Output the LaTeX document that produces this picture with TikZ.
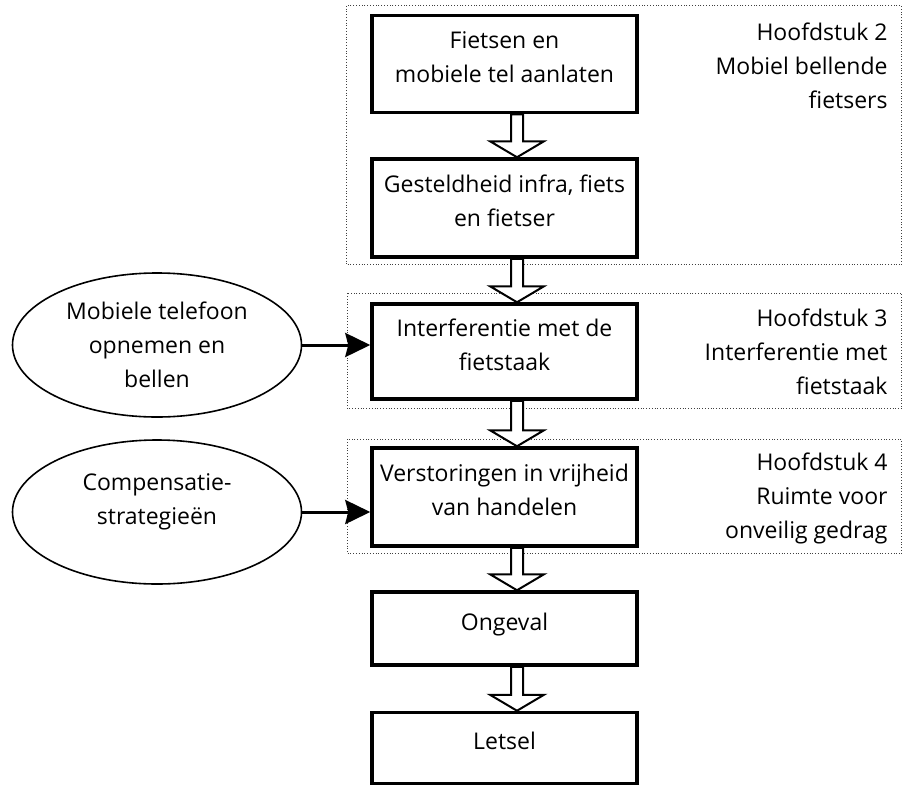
\documentclass[tikz,border=0pt]{standalone}
\usepackage{fontspec}
\setmainfont{Open Sans}
\usetikzlibrary{calc,shapes.geometric,arrows.meta}

\tikzset{
    every node/.style={font=\fontsize{23}{34}\selectfont},
    stap/.style={draw, line width=3.5pt, minimum width=265pt, align=center, inner sep=0pt, text depth=14pt},
    oorzaak/.style={draw, ellipse, line width=1.6pt, minimum width=289pt, minimum height=144pt, align=center, inner sep=0pt},
    hoofdstuk/.style={anchor=north east, align=right, inner sep=0pt},
    kader/.style={draw=black!75, dotted, line width=0.8pt},
    pijl/.style={line width=3pt, -{Stealth[length=25pt, width=24pt, inset=3pt]}},
    blok/.style={draw, fill=white, line width=2pt, line join=miter, to path={
        ($(\tikztostart.south) + (6.5, 0)$) -- ($(\tikztotarget.north) + (6.5, 16)$)
        -- ($(\tikztotarget.north) + (-14.5, 16)$) -- ($(\tikztotarget.north) + (12.5, 0)$)
        -- ($(\tikztotarget.north) + (39.5, 16)$) -- ($(\tikztotarget.north) + (18.5, 16)$)
        -- ($(\tikztostart.south) + (18.5, 0)$) -- cycle}}
}

\begin{document}
\begin{tikzpicture}[x=1pt, y=1pt]
    \useasboundingbox (0, 0) rectangle (902, -785);

    \node [stap, minimum height=97pt] (fietsen) at (504.5, -64) {Fietsen en\\mobiele tel aanlaten};
    \node [stap, minimum height=98pt] (gesteldheid) at ($(fietsen) + (0, -144)$) {Gesteldheid infra, fiets\\en fietser};
    \node [stap, minimum height=95pt] (interferentie) at ($(gesteldheid) + (0, -143.5)$) {Interferentie met de\\fietstaak};
    \node [stap, minimum height=98pt] (verstoring) at ($(interferentie) + (0, -145.5)$) {Verstoringen in vrijheid\\van handelen};
    \node [stap, minimum height=73pt] (ongeval) at ($(verstoring) + (0, -131.5)$) {Ongeval};
    \node [stap, minimum height=71pt] (letsel) at ($(ongeval) + (0, -119.5)$) {Letsel};

    \node [oorzaak] (bellen) at (157, -345) {Mobiele telefoon\\opnemen en\\bellen};
    \node [oorzaak, text depth=25pt] (compensatie) at ($(bellen) + (0, -167)$) {Compensatie-\\strategieën};

    \node [hoofdstuk] (h2) at ($(fietsen.north east) + (249, -9)$) {Hoofdstuk 2\\Mobiel bellende\\fietsers};
    \node [hoofdstuk] (h3) at ($(interferentie.north east) + (249, -6.5)$) {Hoofdstuk 3\\Interferentie met\\fietstaak};
    \node [hoofdstuk] (h4) at ($(verstoring.north east) + (249, -6.5)$) {Hoofdstuk 4\\Ruimte voor\\onveilig gedrag};

    \draw [kader] ($(fietsen.north west) + (-24, 8)$) rectangle ($(gesteldheid.south east) + (263, -6)$);
    \draw [kader] ($(interferentie.north west) + (-23, 9)$) rectangle ($(interferentie.south east) + (263, -8)$);
    \draw [kader] ($(verstoring.north west) + (-23, 7)$) rectangle ($(verstoring.south east) + (263, -6)$);

    \draw [blok] (fietsen) to (gesteldheid);
    \draw [blok] (gesteldheid) to (interferentie);
    \draw [blok] (interferentie) to (verstoring);
    \draw [blok] (verstoring) to (ongeval);
    \draw [blok] (ongeval) to (letsel);

    \draw [pijl] (bellen.east) -- (bellen.east -| interferentie.west);
    \draw [pijl] (compensatie.east) -- (compensatie.east -| verstoring.west);
\end{tikzpicture}
\end{document}
